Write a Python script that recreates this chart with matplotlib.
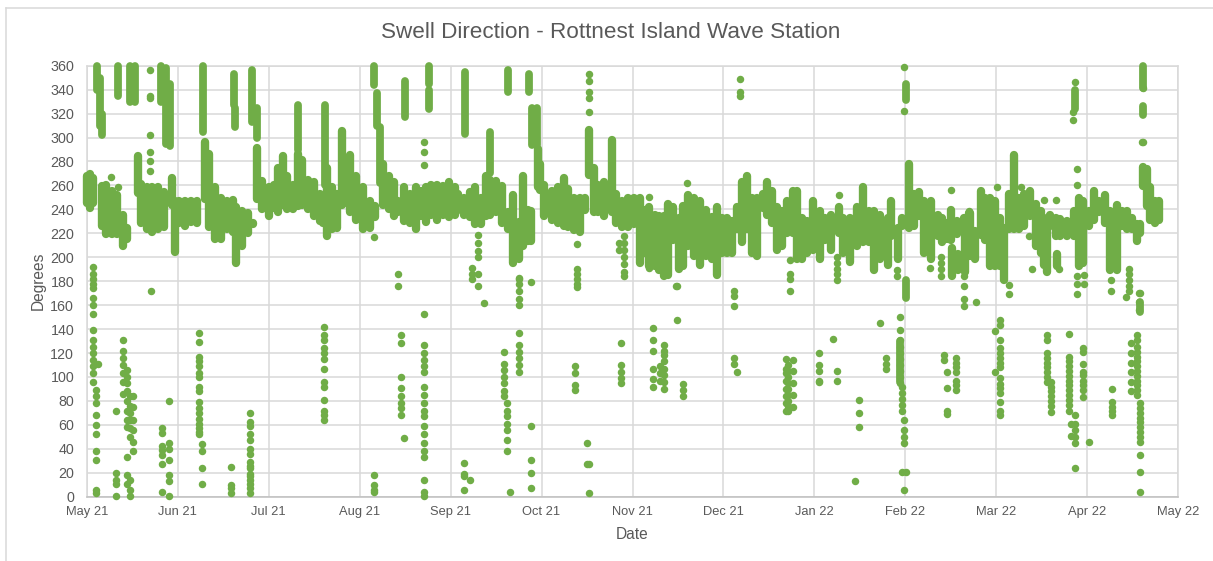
import matplotlib
matplotlib.use("Agg")
import matplotlib.pyplot as plt

plt.rcParams['font.family'] = ['Liberation Sans', 'DejaVu Sans']

TITLE = "Swell Direction - Rottnest Island Wave Station"
month_labels = ["May 21", "Jun 21", "Jul 21", "Aug 21", "Sep 21", "Oct 21", "Nov 21",
                "Dec 21", "Jan 22", "Feb 22", "Mar 22", "Apr 22", "May 22"]
degree_ticks = list(range(0, 361, 20))

# Dense cloud of the readings: day since 1 May 21, upper and lower edge in degrees
band_day = [0, 1, 2, 5, 6.5, 8.5, 10, 12, 13.5, 17, 18, 20, 22, 24, 26, 28.4, 29.5, 31, 33, 35, 37,
            39.5, 41, 43, 45, 47, 49, 50, 52, 54, 55.5, 57, 58.5, 60.8, 62.5, 64, 65.5, 67, 69,
            70.8, 72, 74, 76, 78, 79, 80.5, 82, 83.6, 85.3, 87, 88, 90, 92.5, 94.7, 96.5,
            99.2, 101, 102.6, 104.2, 106, 108, 110, 111.7, 113.5, 115, 117, 119, 121, 123, 124.3,
            126, 128, 130, 132, 133.5, 135, 137, 139, 141, 142.7, 144.4, 146, 147.5, 148.5, 151,
            151.7, 153, 155.5, 157.5, 159.5, 161, 163, 165, 166.7, 168, 169.5, 171, 173, 175.5,
            177, 179, 181, 183, 185, 186.7, 188, 190, 191.5, 193, 194.5, 196, 198, 199.5, 201, 203,
            205, 207, 209, 210.7, 212.4, 214, 215.7, 217.4, 219, 220.7, 222.4, 224, 226, 227.4,
            229, 230.7, 232.4, 234.2, 236, 237.5, 239.2, 241, 243, 245.2, 247, 249, 251.4, 253,
            255.3, 257.5, 259.5, 261.5, 263.3, 265.3, 268, 269, 271.3, 272.6, 275, 276.6, 278.3,
            280, 282.3, 284.6, 286, 287.5, 289, 290.9, 293.2, 295, 289.3, 291.5, 293.8, 295.4, 297,
            299, 300.4, 302.1, 303.8, 305.4, 306.6, 308.3, 310, 311.6, 313.3, 315.5, 317.3, 319.2,
            320, 321, 322.2, 324.1, 324.3, 325.5, 327.8, 330, 331.7, 333.3, 335, 336.7, 338.4,
            340.6, 342.2, 344.5, 346.1, 347.8, 349.5, 351.2, 352.3, 353.2, 354.5, 355.7, 357.1, 358.4]
band_hi = [271, 273, 270, 263, 264, 259, 255, 239, 228, 288, 265, 262, 262, 262, 258, 270, 250, 250, 250, 250, 250,
           300, 290, 262, 253, 250, 251, 245, 242, 240, 232, 295, 267, 262, 264, 278, 288, 271, 264,
           290, 285, 268, 266, 256, 250, 278, 262, 256, 309, 272, 289, 271, 262, 250, 246,
           281, 271, 266, 250, 262, 256, 262, 259, 262, 264, 264, 263, 266, 262, 256,
           253, 258, 262, 253, 271, 268, 267, 263, 241, 255, 233, 271, 243, 242, 294,
           281, 264, 259, 262, 270, 260, 253, 253, 253, 310, 278, 264, 266, 301,
           256, 250, 253, 253, 253, 243, 245, 239, 238, 238, 248, 245, 236, 246, 255, 253,
           250, 243, 237, 245, 236, 236, 234, 245, 266, 271, 253, 253, 256, 266,
           259, 245, 242, 250, 259, 259, 236, 234, 250, 242, 236, 239, 245, 236,
           236, 245, 262, 242, 242, 239, 236, 250, 228, 236, 281, 256, 258,
           250, 250, 239, 236, 232, 243, 234, 236, 240, 211, 206, 234, 240, 225,
           259, 253, 253, 250, 236, 228, 256, 289, 253, 256, 259, 248, 242,
           225, 236, 239, 236, 206, 235, 234, 242, 253, 250, 242, 259, 250,
           255, 242, 247, 242, 242, 236, 231, 231, 279, 277, 262, 250, 250]
band_lo = [242, 238, 242, 223, 216, 216, 216, 206, 212, 250, 225, 220, 218, 220, 222, 240, 201, 225, 223, 226, 225,
           245, 222, 212, 212, 220, 218, 192, 206, 217, 224, 245, 237, 231, 238, 234, 240, 237, 237,
           239, 240, 237, 231, 227, 225, 214, 220, 221, 240, 242, 234, 228, 220, 221, 230,
           240, 237, 231, 234, 227, 225, 220, 231, 226, 232, 228, 232, 230, 232, 236,
           232, 230, 224, 224, 231, 232, 234, 225, 220, 192, 195, 206, 210, 210, 255,
           253, 231, 228, 225, 223, 222, 219, 218, 236, 265, 234, 234, 231, 234,
           225, 222, 222, 224, 192, 200, 189, 189, 186, 181, 182, 211, 187, 189, 206, 198,
           190, 198, 195, 182, 200, 200, 200, 220, 209, 220, 200, 198, 238, 232,
           225, 203, 206, 217, 217, 195, 195, 200, 203, 195, 211, 203, 217, 200,
           193, 206, 209, 209, 186, 195, 190, 214, 195, 223, 221, 223, 231,
           200, 195, 214, 209, 212, 211, 216, 218, 209, 181, 186, 184, 198, 195,
           215, 211, 189, 189, 189, 178, 220, 220, 220, 223, 231, 206, 200,
           190, 184, 223, 214, 189, 214, 214, 214, 189, 192, 223, 228, 234,
           225, 186, 186, 223, 220, 220, 210, 217, 256, 239, 228, 225, 228]

# Runs of readings above the main cloud
spike_day = [3.3, 4.3, 5, 10.3, 14.5, 16, 25, 26.5, 28, 39, 49.3, 49.6, 55.2, 56.9, 70.8, 79.8,
             96, 97, 98, 106.5, 114.5, 114.6, 126.5, 135, 141, 148, 149, 150.5, 271.9, 273.8,
             273.8, 330.3, 353.1, 353.2, 352.3]
spike_hi = [360, 350, 320, 360, 360, 360, 360, 358, 345, 360, 353, 325, 356, 325, 327, 327,
            360, 337, 309, 347, 360, 340, 355, 305, 356, 353, 325, 325, 130, 345,
            181, 340, 360, 326, 163]
spike_lo = [340, 310, 302, 335, 330, 330, 330, 295, 293, 305, 327, 309, 313, 300, 290, 260,
            344, 310, 262, 317, 345, 324, 303, 270, 338, 338, 294, 294, 96, 331,
            166, 324, 341, 319, 154]

# Separate readings: (day, degrees in that column)
col_day = [2.2, 3.1, 3.9, 12.3, 13.4, 14.5, 15.6, 9.8, 8.0, 10.6, 21.4, 21.2, 21.2, 25.1, 27.5, 37.5, 38.5,
           48.2, 54.6, 79.2, 96, 104, 105, 106.2, 112.8, 126, 128, 129, 131, 133, 139.4, 140.5, 141.5, 144.4,
           144.5, 148.5, 163.3, 164, 167.2, 168, 178.7, 179.5, 178, 189.5, 192.9, 191.7, 199.5, 197.3, 197, 216.3, 217.3,
           218.5, 200.7, 188, 235, 233.9, 234.6, 236.1, 244.7, 249.7, 250.8, 251, 251.7, 256.8, 258.4, 265.3,
           267.3, 271.1, 271.8, 272.6, 273.2, 273.4, 273.8, 286.7, 287.6, 290.7, 285.6, 293.5, 297.5,
           282, 305.4, 303.7, 321, 322.3, 328.5, 329.1, 330.3, 330.6, 333.3, 335.2, 342.8, 351.2, 352.3, 349.2,
           352, 353, 353.1, 329.8, 331, 333.5, 342.5, 348.4, 347.5, 304.3, 312.5, 289, 295, 324, 320,
           308.3, 315, 325, 316]
col_values = [
    [192, 186, 182, 178, 174, 166, 160, 153, 139, 131, 125, 120, 114, 109, 103, 96],
    [89, 84, 78, 68, 60, 52, 38, 31, 6, 3],
    [111],
    [131, 122, 116, 110, 103, 96, 86],
    [106, 100, 95, 88, 80, 72, 64, 58, 33, 18, 11],
    [84, 76, 70, 64, 57, 50, 14, 6, 1],
    [84, 75, 64, 56, 46, 38],
    [72, 20, 14, 11, 1],
    [267], [259], [172], [302, 335, 333, 356], [288, 280, 272],
    [57, 53, 42, 39, 35, 27, 4],
    [80, 45, 40, 31, 18, 13, 1],
    [137, 129, 117, 113, 109, 103, 100, 92, 88, 79, 74, 70, 65, 61, 57, 54, 52],
    [44, 38, 24, 11],
    [25, 10, 7, 3],
    [70, 62, 59, 52, 47, 40, 36, 29, 26, 24, 19, 17, 14, 11, 7, 3],
    [142, 135, 131, 124, 120, 115, 107, 96, 92, 81, 72, 68, 64],
    [18, 10, 6, 4, 217],
    [186, 176],
    [135, 128, 100, 91, 84, 78, 74, 68],
    [49],
    [153, 127, 120, 114, 109, 104, 92, 85, 78, 72, 67, 59, 52, 45, 38, 33, 14, 4, 1, 296, 288, 277],
    [28, 19, 17, 6],
    [14],
    [191, 186, 182],
    [219, 212, 205, 200, 186, 176],
    [162],
    [121, 111, 106, 100, 95, 88, 84],
    [78, 72, 67, 61, 56, 47, 38],
    [4],
    [137, 127, 121, 116, 110, 104, 182, 178, 172, 165, 160],
    [183],
    [59, 31, 20, 7, 179],
    [109, 103, 93, 89],
    [190, 186, 182, 178, 175, 211],
    [45, 27],
    [27, 3, 353, 347, 338, 333, 321],
    [128, 110, 104, 99, 95],
    [218, 212, 206, 200, 194, 188, 184],
    [212, 206],
    [141, 131, 122, 107, 98, 92],
    [127, 122, 118, 113, 107, 102, 96, 90],
    [109, 103, 97],
    [94, 89, 84],
    [148, 176],
    [176],
    [116, 111, 172, 168, 159],
    [104],
    [349, 338, 335],
    [262],
    [250, 191],
    [186, 182, 172, 198],
    [115, 107, 103, 97, 90, 84, 78, 72],
    [110, 105, 100, 95, 90, 85, 80, 76, 72],
    [114, 105, 95, 85, 75],
    [120, 110, 105, 97, 96],
    [132],
    [105, 97],
    [200, 195, 190, 186, 181],
    [252],
    [13],
    [81, 70, 58],
    [145],
    [116, 111, 107],
    [189, 184],
    [150, 139, 131, 125, 120, 115, 110, 105, 100, 95],
    [92, 87, 82, 77, 72, 21],
    [64, 56, 50, 45],
    [6, 359, 322],
    [21],
    [118, 114],
    [104, 91, 72, 69],
    [116, 112, 108, 104, 97, 93, 89],
    [200, 195, 190, 184],
    [184, 176, 165, 159],
    [163],
    [191],
    [148, 143, 131, 124, 120, 116, 112, 108, 99, 94, 91, 87, 79, 72, 68],
    [104, 138],
    [135, 131, 120, 116, 112, 108, 104, 100, 96],
    [96, 92, 88, 84, 80, 76, 71],
    [136, 117, 113, 109, 105, 101, 97, 93, 89, 85, 81, 77, 72],
    [61, 51],
    [68, 61, 56, 50, 45],
    [24, 346],
    [124, 121, 111, 104, 102, 97, 93, 89, 83],
    [46],
    [90, 79, 75, 72, 68],
    [135, 131, 125, 121, 117, 113, 109, 105, 101, 97, 93, 89, 85],
    [78, 74, 70, 66, 62, 58, 54, 50, 46, 35, 21, 4, 170],
    [128, 120, 112, 104, 96, 88],
    [170, 163, 156],
    [296],
    [341, 296],
    [321, 315],
    [184, 178, 169, 274, 260],
    [185, 178],
    [181, 172],
    [190, 186, 181, 176, 172],
    [167],
    [259],
    [259],
    [256],
    [239],
    [248],
    [248],
    [177, 169],
    [218],
    [190],
    [190],
]

fig = plt.figure(figsize=(12.13, 5.61), dpi=100, facecolor='white')
ax = fig.add_axes([86.7 / 1213, 1 - 496.7 / 561, (1178.3 - 86.7) / 1213, (496.7 - 65.7) / 561])

GREEN = '#70AD47'
GRID = '#D9D9D9'
TEXT = '#595959'
BAND_LW = 6.0      # points; wide enough that neighbouring columns close up
CAP_DEG = 3.4      # round cap radius in degrees: the read values are the cloud's outer edge

tops = [max(h - CAP_DEG, (h + l) / 2) for h, l in zip(band_hi, band_lo)]
bots = [min(l + CAP_DEG, (h + l) / 2) for h, l in zip(band_hi, band_lo)]
ax.vlines(band_day, bots, tops, color=GREEN, lw=BAND_LW, capstyle='round', zorder=3, clip_on=False)
ax.vlines(spike_day, spike_lo, spike_hi, color=GREEN, lw=5.6, capstyle='round', zorder=3, clip_on=False)
xs, ys = [], []
for d, vals in zip(col_day, col_values):
    for v in vals:
        xs.append(d)
        ys.append(v)
ax.scatter(xs, ys, s=29, color=GREEN, linewidths=0, zorder=3, clip_on=False)

ax.set_xlim(0, 365)
ax.set_ylim(0, 360)
ax.set_xticks([i * 365 / 12 for i in range(13)])
ax.set_xticklabels(month_labels)
ax.set_yticks(degree_ticks)
ax.grid(True, color=GRID, lw=1.1, zorder=0)
ax.set_axisbelow(True)
for s in ax.spines.values():
    s.set_color(GRID)
    s.set_linewidth(1.1)
ax.spines['bottom'].set_color('#BFBFBF')
ax.tick_params(axis='y', length=0, labelsize=10.3, labelcolor=TEXT, pad=9)
ax.tick_params(axis='x', length=0, labelsize=9.3, labelcolor=TEXT, pad=7)
ax.set_xlabel("Date", fontsize=11.2, color=TEXT, labelpad=6)
ax.set_ylabel("Degrees", fontsize=11.2, color=TEXT, labelpad=3)
fig.text(611 / 1213, 1 - 33 / 561, TITLE, fontsize=16.2, color=TEXT, ha='center', va='center')

# Chart frame: only its left and top edges fall inside the picture
fig.add_artist(plt.Line2D([5.5 / 1213, 5.5 / 1213], [0, 1 - 7.5 / 561], color=GRID, lw=1.1))
fig.add_artist(plt.Line2D([5.5 / 1213, 1], [1 - 7.5 / 561, 1 - 7.5 / 561], color=GRID, lw=1.1))
fig.savefig("out.png", dpi=100, facecolor='white')
